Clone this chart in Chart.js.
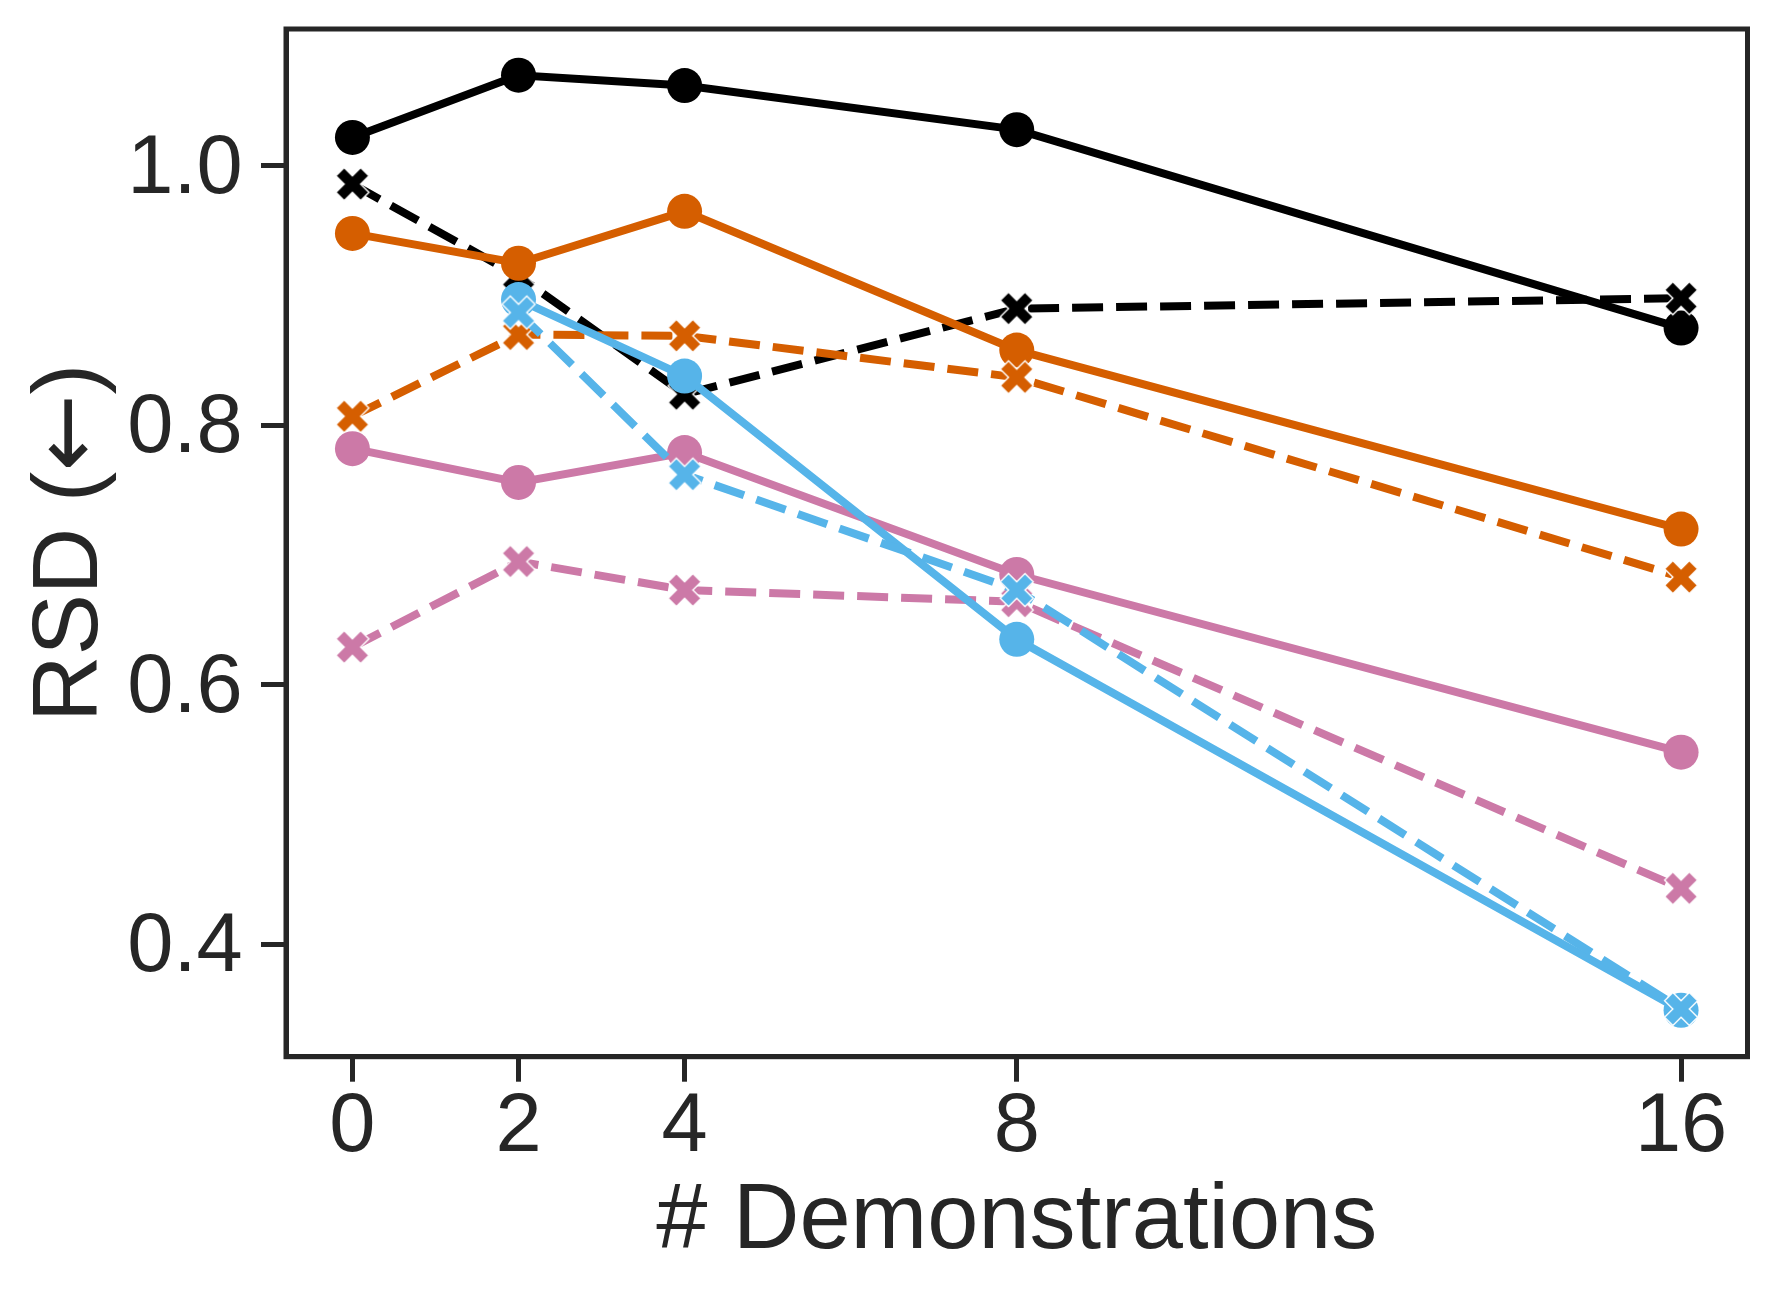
<!DOCTYPE html>
<html>
<head>
<meta charset="utf-8">
<script src="https://cdn.jsdelivr.net/npm/chart.js@4.4.1/dist/chart.umd.min.js"></script>
<style>
html,body{margin:0;padding:0;background:#ffffff;}
canvas{display:block;}
</style>
</head>
<body>
<canvas id="c" width="1777" height="1301" style="width:1777px;height:1301px"></canvas>
<script>
// ---- data ----
const demos = [0, 2, 4, 8, 16];
const xTickValues = [0, 2, 4, 8, 16];
const yTickValues = [0.4, 0.6, 0.8, 1.0];
const blackSolid  = [1.022, 1.070, 1.062, 1.028, 0.875];
const blackDashed = [0.986, 0.915, 0.824, 0.890, 0.898];
const orangeSolid = [0.948, 0.925, 0.965, 0.858, 0.720];
const orangeDashed= [0.807, 0.870, 0.869, 0.837, 0.683];
const pinkSolid   = [0.782, 0.756, 0.779, 0.685, 0.548];
const pinkDashed  = [0.629, 0.695, 0.673, 0.664, 0.443];
const blueSolid   = [null, 0.897, 0.838, 0.635, 0.349];
const blueDashed  = [null, 0.887, 0.762, 0.673, 0.350];
const xTitle = '# Demonstrations';
const yTitleParts = ['RSD (', '←', ')'];

const FONT = "'Liberation Sans', Arial, Helvetica, sans-serif";
const ARROW_FONT = "'DejaVu Sans', sans-serif";
const INK = '#262626';
const BLACK = '#000000', ORANGE = '#D55E00', PINK = '#CC79A7', BLUE = '#56B4E9';

function xMarker(color) {
  const s = 44, c = document.createElement('canvas');
  c.width = s; c.height = s;
  const g = c.getContext('2d');
  const u = 33 / 4;
  const pts = [[-1,-2],[0,-1],[1,-2],[2,-1],[1,0],[2,1],[1,2],[0,1],[-1,2],[-2,1],[-1,0],[-2,-1]];
  g.beginPath();
  pts.forEach(([px, py], i) => {
    const X = s / 2 + px * u, Y = s / 2 + py * u;
    if (i) g.lineTo(X, Y); else g.moveTo(X, Y);
  });
  g.closePath();
  g.fillStyle = color;
  g.fill();
  g.lineJoin = 'miter';
  g.lineWidth = 1.4;
  g.strokeStyle = '#ffffff';
  g.stroke();
  return c;
}

function series(label, vals, color, dashed, order) {
  return {
    label,
    data: demos.map((x, i) => ({ x: x, y: vals[i] })),
    borderColor: color,
    backgroundColor: color,
    borderWidth: 8,
    borderDash: dashed ? [31, 13] : [],
    borderCapStyle: 'butt',
    pointStyle: dashed ? xMarker(color) : 'circle',
    pointRadius: 17.5,
    pointHoverRadius: 17.5,
    pointBackgroundColor: color,
    pointBorderColor: '#ffffff',
    pointBorderWidth: 0,
    tension: 0,
    spanGaps: false,
    order
  };
}

const frame = {
  id: 'frame',
  afterDatasetsDraw(chart) {
    const a = chart.chartArea, ctx = chart.ctx;
    ctx.save();
    ctx.strokeStyle = INK;
    ctx.lineWidth = 5;
    ctx.strokeRect(a.left, a.top, a.right - a.left, a.bottom - a.top);
    ctx.restore();
  }
};

// y-axis title with mixed fonts (arrow glyph from DejaVu Sans)
const yTitlePlugin = {
  id: 'yTitlePlugin',
  afterDraw(chart) {
    const a = chart.chartArea, ctx = chart.ctx;
    const fonts = [FONT, ARROW_FONT, FONT];
    ctx.save();
    ctx.fillStyle = INK;
    ctx.textBaseline = 'alphabetic';
    ctx.textAlign = 'left';
    const widths = yTitleParts.map((t, i) => { ctx.font = '92px ' + fonts[i]; return ctx.measureText(t).width; });
    const total = widths.reduce((p, q) => p + q, 0);
    ctx.translate(96.7, (a.top + a.bottom) / 2);
    ctx.rotate(-Math.PI / 2);
    let x = -total / 2;
    yTitleParts.forEach((t, i) => {
      ctx.font = '92px ' + fonts[i];
      ctx.fillText(t, x, 0);
      x += widths[i];
    });
    ctx.restore();
  }
};

new Chart(document.getElementById('c'), {
  type: 'line',
  data: {
    datasets: [
      series('A', blackSolid, BLACK, false, 8),
      series('A*', blackDashed, BLACK, true, 7),
      series('B', orangeSolid, ORANGE, false, 6),
      series('B*', orangeDashed, ORANGE, true, 5),
      series('C', pinkSolid, PINK, false, 4),
      series('C*', pinkDashed, PINK, true, 3),
      series('D', blueSolid, BLUE, false, 2),
      series('D*', blueDashed, BLUE, true, 1)
    ]
  },
  options: {
    responsive: false,
    devicePixelRatio: 1,
    animation: false,
    events: [],
    layout: { padding: { top: 29, right: 29.5, left: 0, bottom: 0 } },
    plugins: { legend: { display: false }, tooltip: { enabled: false }, title: { display: false } },
    scales: {
      x: {
        type: 'linear',
        min: -0.8,
        max: 16.8,
        afterBuildTicks: s => { s.ticks = xTickValues.map(v => ({ value: v })); },
        afterFit: s => { s.height = 244.3; s.paddingLeft = 0; s.paddingRight = 0; },
        ticks: {
          font: { family: FONT, size: 83, lineHeight: 1 },
          color: INK,
          padding: 4.5,
          maxRotation: 0,
          autoSkip: false,
          callback: v => String(v)
        },
        grid: { display: true, drawOnChartArea: false, drawTicks: true, tickLength: 25, tickWidth: 5, tickColor: INK, lineWidth: 5, color: INK },
        border: { display: true, width: 5, color: INK },
        title: { display: true, text: xTitle, font: { family: FONT, size: 92, lineHeight: 1.2 }, color: INK, padding: { top: 0, bottom: 23 } }
      },
      y: {
        type: 'linear',
        min: 0.3132,
        max: 1.1056,
        afterBuildTicks: s => { s.ticks = yTickValues.map(v => ({ value: v })); },
        afterFit: s => { s.width = 286; s.paddingTop = 0; s.paddingBottom = 0; },
        ticks: {
          font: { family: FONT, size: 83, lineHeight: 1 },
          color: INK,
          padding: 18.3,
          labelOffset: 4,
          autoSkip: false,
          callback: v => Number(v).toFixed(1)
        },
        grid: { display: true, drawOnChartArea: false, drawTicks: true, tickLength: 25, tickWidth: 5, tickColor: INK, lineWidth: 5, color: INK },
        border: { display: true, width: 5, color: INK },
        title: { display: false }
      }
    }
  },
  plugins: [frame, yTitlePlugin]
});
</script>
</body>
</html>
